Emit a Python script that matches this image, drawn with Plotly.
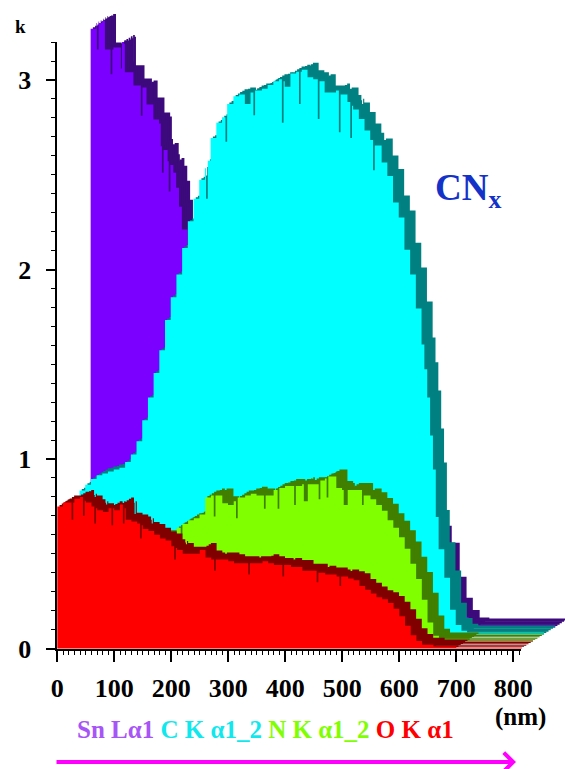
import plotly.graph_objects as go

# ---------------- data (front-face values, k vs depth in nm) ----------------
sn_x = [0, 10, 11, 14, 20, 25, 35, 38, 40, 53, 55, 58, 60, 75, 88, 91, 98, 110, 120, 123,
        125, 128, 135, 137, 140, 145, 150, 155, 160, 170, 180, 200,
        250, 300, 350, 400, 450, 500, 550, 600, 614, 628, 640, 651, 663, 680, 750, 815]
sn_k = [3.16, 3.19, 3.05, 3.19, 3.20, 3.05, 2.92, 3.05, 3.06, 2.95, 3.09, 3.08, 2.93, 2.86, 2.70, 2.85, 2.76, 2.68, 2.66, 2.54,
        2.40, 2.52, 2.46, 2.30, 2.44, 2.40, 2.32, 2.22, 2.10, 2.00, 1.90, 1.80,
        1.55, 1.35, 1.20, 1.05, 0.95, 0.80, 0.65, 0.50, 0.41, 0.23, 0.12, 0.055, 0.015, 0.01, 0.01, 0.01]

c_x = [0, 10, 20, 30, 40, 50, 60, 70, 80, 90, 100, 110, 120, 130, 140, 150, 160, 170, 180, 190,
       200, 210, 220, 222, 225, 230, 240, 250, 256, 259, 270, 280, 290, 300, 305, 308, 320, 330, 340, 350,
       355, 358, 360, 370, 380, 385, 388, 390, 400, 410, 418, 421, 430, 440, 450, 455, 458, 470, 475, 478,
       480, 490, 500, 510, 515, 518, 530, 540, 550, 560, 570, 580, 590,
       600, 605, 610, 615, 620, 625, 630, 640, 650, 660, 670, 680, 750, 815]
c_k = [0.76, 0.79, 0.82, 0.84, 0.85, 0.86, 0.87, 0.88, 0.91, 0.95, 1.02, 1.13, 1.25, 1.38, 1.50, 1.66, 1.78, 1.90, 2.04, 2.18,
       2.30, 2.40, 2.46, 2.30, 2.50, 2.62, 2.70, 2.73, 2.60, 2.80, 2.84, 2.85, 2.80, 2.86, 2.74, 2.87, 2.88, 2.90, 2.92, 2.93,
       2.70, 2.92, 2.89, 2.96, 2.97, 2.80, 2.97, 2.98, 2.94, 2.93, 2.72, 2.92, 2.86, 2.86, 2.87, 2.65, 2.85, 2.81, 2.62, 2.79,
       2.77, 2.72, 2.66, 2.61, 2.45, 2.58, 2.49, 2.42, 2.28, 2.20, 2.03, 1.90, 1.72,
       1.53, 1.40, 1.25, 1.05, 0.87, 0.62, 0.45, 0.30, 0.13, 0.05, 0.02, 0.01, 0.01, 0.01]

n_x = [0, 20, 40, 60, 80, 100, 120, 140, 160, 170, 180, 190, 197, 200, 210, 220, 230, 240, 250, 255,
       258, 270, 280, 290, 294, 297, 310, 320, 330, 343, 346, 360, 367, 370, 380, 390, 396, 399, 410, 413,
       420, 430, 439, 442, 450, 453, 456, 470, 480, 483, 490, 500, 510, 515, 518, 530, 540, 550, 560, 570,
       580, 590, 600, 610, 620, 630, 640, 650, 700, 750, 815]
n_k = [0.50, 0.52, 0.54, 0.55, 0.55, 0.55, 0.55, 0.55, 0.55, 0.55, 0.56, 0.60, 0.52, 0.62, 0.64, 0.65, 0.67, 0.76, 0.77, 0.66,
       0.77, 0.73, 0.72, 0.74, 0.65, 0.76, 0.77, 0.78, 0.77, 0.70, 0.77, 0.80, 0.70, 0.81, 0.82, 0.82, 0.72, 0.82, 0.83, 0.74,
       0.83, 0.83, 0.75, 0.85, 0.86, 0.76, 0.87, 0.81, 0.80, 0.72, 0.80, 0.80, 0.80, 0.72, 0.77, 0.75, 0.72, 0.69, 0.64, 0.60,
       0.55, 0.49, 0.41, 0.33, 0.22, 0.10, 0.03, 0.01, 0.005, 0.005, 0.005]

o_x = [0, 10, 20, 25, 28, 30, 40, 45, 48, 50, 60, 65, 68, 70, 80, 90, 95, 98, 100, 110,
       115, 118, 120, 130, 140, 145, 148, 150, 160, 170, 180, 190, 200, 205, 208, 210, 220, 230, 240, 250,
       260, 270, 275, 278, 280, 290, 300, 310, 320, 330, 335, 338, 340, 350, 360, 370, 380, 390, 395, 398,
       400, 410, 420, 430, 440, 450, 455, 458, 460, 470, 480, 490, 495, 498, 500, 510, 520, 530, 540, 550,
       560, 570, 580, 590, 600, 610, 620, 630, 640, 660, 700, 750, 800, 815]
o_k = [0.75, 0.77, 0.77, 0.68, 0.77, 0.79, 0.80, 0.70, 0.78, 0.77, 0.75, 0.66, 0.74, 0.73, 0.72, 0.74, 0.65, 0.74, 0.73, 0.76,
       0.66, 0.74, 0.68, 0.67, 0.66, 0.58, 0.65, 0.63, 0.62, 0.60, 0.58, 0.57, 0.54, 0.47, 0.53, 0.52, 0.50, 0.50, 0.50, 0.52,
       0.48, 0.47, 0.41, 0.47, 0.47, 0.47, 0.46, 0.45, 0.45, 0.45, 0.39, 0.45, 0.45, 0.45, 0.46, 0.45, 0.44, 0.44, 0.38, 0.44,
       0.44, 0.43, 0.43, 0.41, 0.41, 0.41, 0.35, 0.40, 0.40, 0.39, 0.39, 0.38, 0.33, 0.38, 0.38, 0.37, 0.36, 0.33, 0.31, 0.29,
       0.27, 0.26, 0.24, 0.21, 0.17, 0.12, 0.07, 0.04, 0.02, 0.01, 0.005, 0.005, 0.005, 0.005]

labels = ["Sn Lα1", "C K α1_2", "N K α1_2", "O K α1"]
label_colors = ["#A855F7", "#10E8EE", "#80FF00", "#FF0000"]
x_ticks = [0, 100, 200, 300, 400, 500, 600, 700, 800]
y_ticks = [0, 1, 2, 3]

# ---------------- styling / geometry ----------------
W, H = 565, 769
PX0, PXS = 57.3, 0.570      # pixel of x=0, pixels per nm
PY0, PYS = 648.5, 189.5     # pixel of k=0, pixels per k
DXN, DYK = 19.5, 0.037      # depth step per series (data units)

front_col = ["#7B00FF", "#00FFFF", "#80FF00", "#FF0000"]
side_col = ["#3D0A7C", "#008080", "#407F00", "#800000"]

series = [(sn_x, sn_k), (c_x, c_k), (n_x, n_k), (o_x, o_k)]
depth = [3, 2, 1, 0]

fig = go.Figure()

def add_poly(xs, ks, ox, oy, color):
    X = [xs[0] + ox] + [x + ox for x in xs] + [xs[-1] + ox]
    Y = [oy] + [k + oy for k in ks] + [oy]
    fig.add_trace(go.Scatter(x=X, y=Y, mode="lines", line=dict(width=0, shape="hv"),
                             fill="toself", fillcolor=color, hoverinfo="skip",
                             showlegend=False, xaxis="x", yaxis="y"))

for (xs, ks), d, fc, sc in zip(series, depth, front_col, side_col):
    for t in [1.0, 0.8, 0.6, 0.4, 0.2]:
        add_poly(xs, ks, (d + t) * DXN, (d + t) * DYK, sc)
    add_poly(xs, ks, d * DXN, d * DYK, fc)

# dummy trace for the visible axes subplot
fig.add_trace(go.Scatter(x=[], y=[], xaxis="x2", yaxis="y2", showlegend=False))

xr = [-PX0 / PXS, (W - PX0) / PXS]
yr = [(PY0 - H) / PYS, PY0 / PYS]
x2_end = 813.5
tickfont = dict(family="Liberation Serif", size=26, color="black", weight="bold")

fig.update_layout(
    width=W, height=H, margin=dict(l=0, r=0, t=0, b=0, autoexpand=False),
    paper_bgcolor="white", plot_bgcolor="rgba(0,0,0,0)",
    xaxis=dict(domain=[0, 1], range=xr, visible=False, fixedrange=True),
    yaxis=dict(domain=[0, 1], range=yr, visible=False, fixedrange=True),
    xaxis2=dict(domain=[PX0 / W, (PX0 + x2_end * PXS) / W], range=[0, x2_end], anchor="y2",
                showline=True, linecolor="black", linewidth=1.5, showgrid=False, zeroline=False,
                ticks="outside", ticklen=12, tickwidth=1.5, tickcolor="black",
                tickvals=x_ticks, ticktext=[str(v) for v in x_ticks], tickfont=tickfont,
                ticklabelstandoff=4, automargin=False, fixedrange=True,
                minor=dict(ticks="outside", ticklen=5, tickwidth=1, dtick=10, tickcolor="black", showgrid=False)),
    yaxis2=dict(domain=[(H - PY0) / H, (H - PY0 + 3.2 * PYS) / H], range=[0, 3.2], anchor="x2",
                showline=True, linecolor="black", linewidth=1.5, showgrid=False, zeroline=False,
                ticks="outside", ticklen=10, tickwidth=1.5, tickcolor="black",
                tickvals=y_ticks, ticktext=[str(v) for v in y_ticks], tickfont=tickfont,
                ticklabelstandoff=9, automargin=False, fixedrange=True,
                minor=dict(ticks="outside", ticklen=5, tickwidth=1, dtick=0.1, tickcolor="black", showgrid=False)),
)

def px(xp):
    return xp / W

def py(yp):
    return 1 - yp / H

serif = "Liberation Serif"
legend_text = " ".join(f'<span style="color:{c}">{t}</span>' for t, c in zip(labels, label_colors))
fig.add_annotation(x=px(265), y=py(729), xref="paper", yref="paper", text=f"<b>{legend_text}</b>",
                   showarrow=False, font=dict(family=serif, size=25), xanchor="center", yanchor="middle")
fig.add_annotation(x=px(520), y=py(717), xref="paper", yref="paper", text="<b>(nm)</b>",
                   showarrow=False, font=dict(family=serif, size=25, color="black"),
                   xanchor="center", yanchor="middle")
fig.add_annotation(x=px(20), y=py(27), xref="paper", yref="paper", text="<b>k</b>",
                   showarrow=False, font=dict(family=serif, size=19, color="black"),
                   xanchor="center", yanchor="middle")
fig.add_annotation(x=px(433), y=py(190), xref="paper", yref="paper", text="<b>CN<sub>x</sub></b>",
                   showarrow=False, font=dict(family=serif, size=37, color="#1432C8"),
                   xanchor="left", yanchor="middle")
fig.add_annotation(x=px(516), y=py(762), ax=px(55), ay=py(762), xref="x domain", yref="y domain",
                   axref="x domain", ayref="y domain", text="", showarrow=True,
                   arrowcolor="#FF00FF", arrowwidth=4, arrowhead=4, arrowsize=0.9)

fig.write_html("out.html")
